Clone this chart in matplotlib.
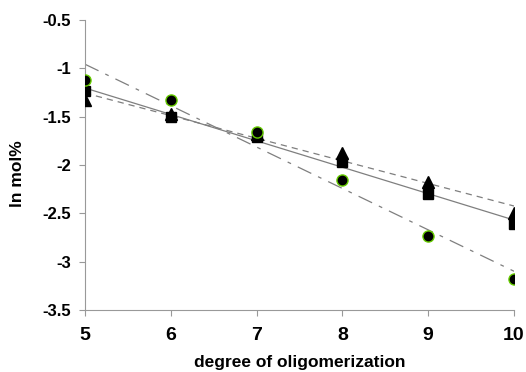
import numpy as np
import matplotlib.pyplot as plt

# Data.
degree    = [5, 6, 7, 8, 9, 10]
circles   = [-1.12, -1.33, -1.66, -2.15, -2.73, -3.18]
squares   = [-1.23, -1.50, -1.71, -1.97, -2.30, -2.61]
triangles = [-1.33, -1.47, -1.68, -1.88, -2.18, -2.50]

plt.rcParams['font.family'] = ['Liberation Sans', 'DejaVu Sans']
plt.rcParams['font.weight'] = 'bold'

fig = plt.figure(figsize=(5.26, 3.72), dpi=100)
ax = fig.add_axes([85/526, 1 - 310/372, (514-85)/526, (310-20)/372])

x = np.array(degree, dtype=float)
line_grey = '#7f7f7f'

# Trend lines (linear fits).
for y, ls in [(circles, (0, (12, 6, 3, 6))), (squares, '-'), (triangles, (0, (5, 4)))]:
  k, b = np.polyfit(x, y, 1)
  ax.plot(x, k*x + b, color=line_grey, lw=0.9, ls=ls, zorder=1)

# Markers.
ax.plot(x, triangles, '^', color='black', ms=8, zorder=3)
ax.plot(x, squares, 's', color='black', ms=7, zorder=4)
ax.plot(x, circles, 'o', color='black', mec='#66cc00', mew=1, ms=8, zorder=5)

# Style the axes.
ax.set_xlim(5, 10)
ax.set_ylim(-3.5, -0.5)
ax.set_yticks(np.arange(-3.5, -0.49, 0.5))
ax.set_yticklabels(['-3.5', '-3', '-2.5', '-2', '-1.5', '-1', '-0.5'])
ax.set_xticks(degree)
for s in ['top', 'right']:
  ax.spines[s].set_visible(False)
for s in ['left', 'bottom']:
  ax.spines[s].set_color('#999999')
ax.tick_params(axis='both', direction='out', color='#999999', length=4)
ax.tick_params(axis='y', labelsize=12, pad=6)
ax.tick_params(axis='x', labelsize=14, pad=8)
for lab in ax.get_xticklabels() + ax.get_yticklabels():
  lab.set_fontweight('bold')
ax.set_xlabel('degree of oligomerization', fontsize=12.5, fontweight='bold', labelpad=8)
ax.set_ylabel('ln mol%', fontsize=12.5, fontweight='bold')
ax.yaxis.set_label_coords(-0.14, 0.47)

fig.savefig('out.png', dpi=100)
